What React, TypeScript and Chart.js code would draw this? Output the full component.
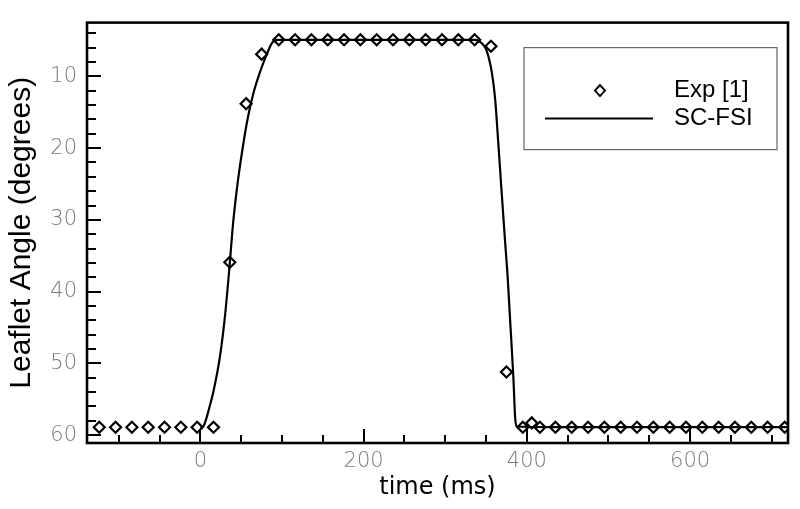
import React, { useEffect, useRef } from 'react';
import { Chart, registerables } from 'chart.js';

Chart.register(...registerables);

// Experimental data (Exp [1])
const expTime = [
  -124, -104, -84, -64, -44, -24, -4, 16,
  36, 56, 75,
  96, 116, 136, 156, 176, 196, 216, 236, 256, 276, 296, 316, 336,
  356, 375,
  395, 406, 416, 435, 455, 475, 495, 515, 535, 555, 575, 595, 615, 635, 655, 675, 695, 716,
];
const expAngle = [
  58.9, 58.9, 58.9, 58.9, 58.9, 58.9, 58.9, 58.9,
  35.9, 13.8, 6.9,
  4.9, 4.9, 4.9, 4.9, 4.9, 4.9, 4.9, 4.9, 4.9, 4.9, 4.9, 4.9, 4.9,
  5.8, 51.2,
  58.9, 58.3, 58.9, 58.9, 58.9, 58.9, 58.9, 58.9, 58.9, 58.9, 58.9, 58.9, 58.9, 58.9, 58.9, 58.9, 58.9, 58.9,
];

// Simulation (SC-FSI)
const simTime = [
  0, 4, 8, 12, 16, 24, 30, 36, 40, 46, 52, 58, 65, 73, 81, 88, 94,
  200, 336, 345, 351, 357, 361, 365, 369, 373, 376.5, 379.5, 383.5, 385.6, 387.6, 450, 720,
];
const simAngle = [
  59.0, 58.7, 57.4, 55.7, 53.9, 49.0, 43.5, 36.0, 30.5, 24.5, 19.8, 15.8, 12.3, 9.4, 7.0, 5.3, 4.9,
  4.9, 4.9, 5.4, 6.5, 9.4, 13.0, 19.3, 26.0, 32.5, 38.0, 44.0, 52.0, 57.5, 58.8, 58.9, 58.9,
];

const xMajorTicks = [0, 200, 400, 600];
const xMinorTicks = [-100, -50, 50, 100, 150, 250, 300, 350, 450, 500, 550, 650, 700];
const yMajorTicks = [10, 20, 30, 40, 50, 60];
const yMinorTicks = [4, 6, 8, 12, 14, 16, 18, 22, 24, 26, 28, 32, 34, 36, 38, 42, 44, 46, 48, 52, 54, 56, 58];

const framePlugin = {
  id: 'frame',
  afterDatasetsDraw(chart: any) {
    const { ctx, chartArea, scales } = chart;
    const { left, right, top, bottom } = chartArea;
    const x = scales.x;
    const y = scales.y;
    ctx.save();
    ctx.strokeStyle = '#000';
    ctx.lineWidth = 2;
    ctx.beginPath();
    xMajorTicks.forEach((v) => {
      const px = Math.round(x.getPixelForValue(v));
      ctx.moveTo(px, bottom);
      ctx.lineTo(px, bottom - 14);
    });
    xMinorTicks.forEach((v) => {
      const px = Math.round(x.getPixelForValue(v));
      ctx.moveTo(px, bottom);
      ctx.lineTo(px, bottom - 8);
    });
    yMajorTicks.forEach((v) => {
      const py = Math.round(y.getPixelForValue(v));
      ctx.moveTo(left, py);
      ctx.lineTo(left + 14, py);
    });
    yMinorTicks.forEach((v) => {
      const py = Math.round(y.getPixelForValue(v));
      ctx.moveTo(left, py);
      ctx.lineTo(left + 9, py);
    });
    ctx.stroke();
    ctx.lineWidth = 2.6;
    ctx.strokeRect(left, top, right - left, bottom - top);
    ctx.restore();
  },
};

const legendPlugin = {
  id: 'boxLegend',
  afterDraw(chart: any) {
    const { ctx, chartArea } = chart;
    const bx = chartArea.right - 264;
    const by = chartArea.top + 25;
    const bw = 253;
    const bh = 102;
    ctx.save();
    ctx.fillStyle = '#fff';
    ctx.fillRect(bx, by, bw, bh);
    ctx.strokeStyle = '#666';
    ctx.lineWidth = 1.2;
    ctx.strokeRect(bx, by, bw, bh);
    const ds = chart.data.datasets;
    // marker row
    const my = by + 43;
    const mx = bx + 76;
    ctx.strokeStyle = '#000';
    ctx.lineWidth = 2;
    ctx.beginPath();
    ctx.moveTo(mx, my - 5.5);
    ctx.lineTo(mx + 5, my);
    ctx.lineTo(mx, my + 5.5);
    ctx.lineTo(mx - 5, my);
    ctx.closePath();
    ctx.stroke();
    // line row
    const ly = by + 71;
    ctx.lineWidth = 2;
    ctx.beginPath();
    ctx.moveTo(bx + 21, ly);
    ctx.lineTo(bx + 129, ly);
    ctx.stroke();
    ctx.fillStyle = '#000';
    ctx.font = '24px "Liberation Sans", Arial, sans-serif';
    ctx.textBaseline = 'middle';
    ctx.textAlign = 'left';
    ctx.fillText(ds[1].label, bx + 150, my);
    ctx.fillText(ds[0].label, bx + 150, ly);
    ctx.restore();
  },
};

export default function App() {
  const canvasRef = useRef<HTMLCanvasElement | null>(null);

  useEffect(() => {
    const canvas = canvasRef.current;
    if (!canvas) return;
    const chart = new Chart(canvas, {
      type: 'scatter',
      data: {
        datasets: [
          {
            type: 'line',
            label: 'SC-FSI',
            data: simTime.map((t, i) => ({ x: t, y: simAngle[i] })),
            borderColor: '#000',
            borderWidth: 2.2,
            pointRadius: 0,
            fill: false,
            cubicInterpolationMode: 'monotone',
            order: 2,
          } as any,
          {
            type: 'scatter',
            label: 'Exp [1]',
            data: expTime.map((t, i) => ({ x: t, y: expAngle[i] })),
            pointStyle: 'rectRot',
            pointRadius: 5.5,
            borderColor: '#000',
            backgroundColor: 'rgba(0,0,0,0)',
            borderWidth: 2.2,
            order: 1,
          } as any,
        ],
      },
      options: {
        animation: false,
        responsive: false,
        layout: { padding: { top: 9, right: 12, left: 0, bottom: 0 } },
        plugins: {
          legend: { display: false },
          tooltip: { enabled: false },
        },
        scales: {
          x: {
            type: 'linear',
            min: -139,
            max: 720,
            grid: { display: false, drawTicks: false },
            border: { display: false },
            afterBuildTicks: (s: any) => {
              s.ticks = xMajorTicks.map((v) => ({ value: v }));
            },
            afterFit: (s: any) => {
              s.height = 66;
            },
            ticks: {
              color: '#7a7a7a',
              font: { family: '"DejaVu Sans", sans-serif', size: 21, weight: 200 as any },
              padding: 6,
              autoSkip: false,
              maxRotation: 0,
            },
            title: {
              display: true,
              text: 'time (ms)',
              color: '#000',
              font: { family: '"DejaVu Sans", sans-serif', size: 24 },
              padding: { top: 0, bottom: 7 },
            },
          },
          y: {
            type: 'linear',
            reverse: true,
            min: 2.5,
            max: 61.1,
            grid: { display: false, drawTicks: false },
            border: { display: false },
            afterBuildTicks: (s: any) => {
              s.ticks = yMajorTicks.map((v) => ({ value: v }));
            },
            afterFit: (s: any) => {
              s.width = 87;
            },
            ticks: {
              color: '#7a7a7a',
              font: { family: '"DejaVu Sans", sans-serif', size: 21, weight: 200 as any },
              padding: 10,
              autoSkip: false,
            },
            title: {
              display: true,
              text: 'Leaflet Angle (degrees)',
              color: '#000',
              font: { family: '"Liberation Sans", Arial, sans-serif', size: 30 },
              padding: { top: 4, bottom: 0 },
            },
          },
        },
      },
      plugins: [framePlugin, legendPlugin],
    });
    return () => chart.destroy();
  }, []);

  return (
    <div style={{ position: 'absolute', left: 0, top: 0, width: 800, height: 509, background: '#fff' }}>
      <canvas ref={canvasRef} width={800} height={509} style={{ display: 'block' }} />
    </div>
  );
}
